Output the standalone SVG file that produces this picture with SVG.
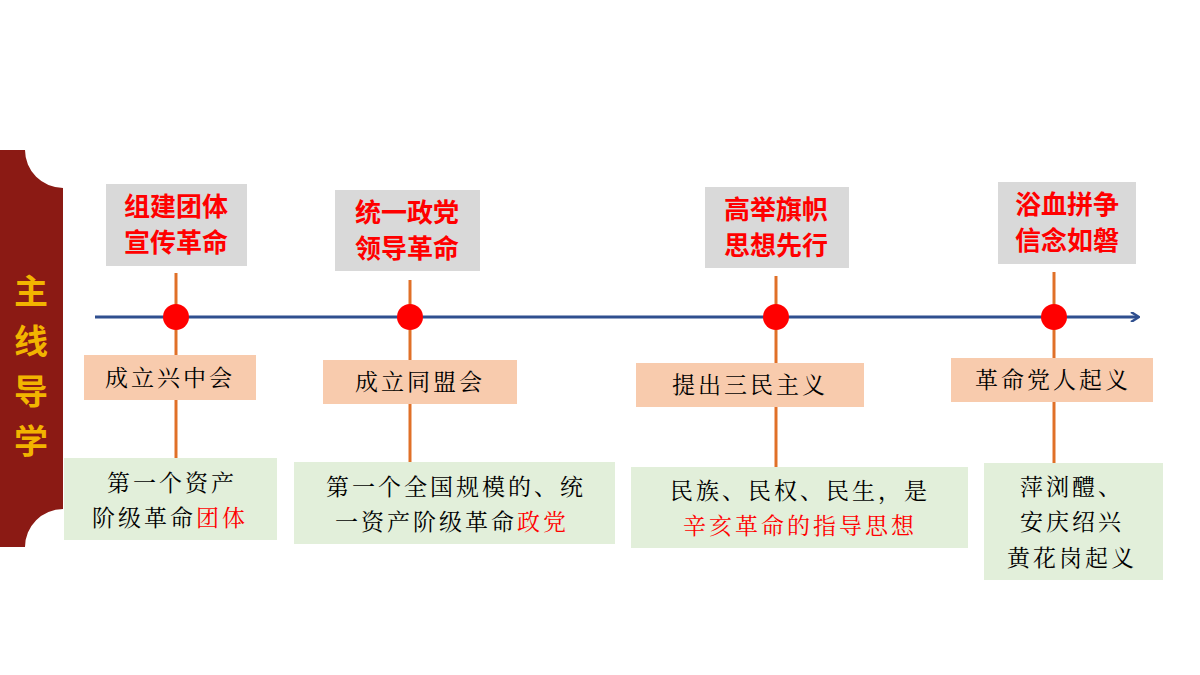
<svg xmlns="http://www.w3.org/2000/svg" width="1200" height="675" viewBox="0 0 1200 675">
<style>
.g{fill:#d9d9d9}.p{fill:#f8cbad}.gr{fill:#e2efda}
.ht{font-family:"Noto Sans CJK SC",sans-serif;font-weight:bold;font-size:26px;fill:#ff0000;text-anchor:middle}
.bt{font-family:"Noto Serif CJK SC","Noto Sans CJK SC",serif;font-size:23px;fill:#000;text-anchor:middle;letter-spacing:3px}
.r{fill:#ff0000}
.v{stroke:#e07028;stroke-width:3}
.dot{fill:#ff0000}
</style>
<defs><marker id="ar" markerWidth="10" markerHeight="10" refX="8" refY="5" orient="auto" markerUnits="userSpaceOnUse"><path d="M1,0 L9,5 L1,10" fill="none" stroke="#2f4f8f" stroke-width="2.5"/></marker></defs>
<rect width="1200" height="675" fill="#fff"/>
<g id="banner">
<path d="M0,150 H25 A38,38 0 0 0 63,188 V509 A38,38 0 0 0 25,547 H0 Z" fill="#8b1a14"/>
<text font-family="Noto Sans CJK SC,sans-serif" font-weight="bold" font-size="34" fill="#f2b400" text-anchor="middle"><tspan x="31" y="304">主</tspan><tspan x="31" y="354">线</tspan><tspan x="31" y="404">导</tspan><tspan x="31" y="454">学</tspan></text>
</g>
<g id="connectors">
<line x1="95" y1="317" x2="1138" y2="317" stroke="#2f4f8f" stroke-width="3" marker-end="url(#ar)"/>
<line class="v" x1="176" y1="273" x2="176" y2="458"/>
<line class="v" x1="410" y1="280" x2="410" y2="462"/>
<line class="v" x1="776" y1="276" x2="776" y2="467"/>
<line class="v" x1="1054" y1="272" x2="1054" y2="463"/>
</g>
<g id="n1">
<rect class="g" x="106" y="184" width="141" height="82"/>
<text class="ht"><tspan x="176" y="216">组建团体</tspan><tspan x="176" y="252">宣传革命</tspan></text>
<circle class="dot" cx="176" cy="317" r="13"/>
<rect class="p" x="84" y="355" width="172" height="45"/>
<text class="bt" x="170" y="386">成立兴中会</text>
<rect class="gr" x="64" y="458" width="213" height="82"/>
<text class="bt"><tspan x="172" y="491">第一个资产</tspan><tspan x="170" y="526">阶级革命<tspan class="r">团体</tspan></tspan></text>
</g>
<g id="n2">
<rect class="g" x="335" y="190" width="145" height="81"/>
<text class="ht"><tspan x="407" y="222">统一政党</tspan><tspan x="407" y="258">领导革命</tspan></text>
<circle class="dot" cx="410" cy="317" r="13"/>
<rect class="p" x="323" y="360" width="194" height="44"/>
<text class="bt" x="420" y="390">成立同盟会</text>
<rect class="gr" x="294" y="462" width="321" height="82"/>
<text class="bt"><tspan x="456" y="495">第一个全国规模的、统</tspan><tspan x="452" y="530">一资产阶级革命<tspan class="r">政党</tspan></tspan></text>
</g>
<g id="n3">
<rect class="g" x="705" y="187" width="144" height="81"/>
<text class="ht"><tspan x="776" y="219">高举旗帜</tspan><tspan x="776" y="255">思想先行</tspan></text>
<circle class="dot" cx="776" cy="317" r="13"/>
<rect class="p" x="636" y="363" width="228" height="44"/>
<text class="bt" x="750" y="393">提出三民主义</text>
<rect class="gr" x="631" y="467" width="337" height="81"/>
<text class="bt"><tspan x="800" y="499">民族、民权、民生，是</tspan><tspan x="800" y="534" class="r">辛亥革命的指导思想</tspan></text>
</g>
<g id="n4">
<rect class="g" x="998" y="182" width="138" height="82"/>
<text class="ht"><tspan x="1067" y="214">浴血拼争</tspan><tspan x="1067" y="250">信念如磐</tspan></text>
<circle class="dot" cx="1054" cy="317" r="13"/>
<rect class="p" x="951" y="358" width="202" height="44"/>
<text class="bt" x="1053" y="388">革命党人起义</text>
<rect class="gr" x="984" y="463" width="179" height="117"/>
<text class="bt"><tspan x="1072" y="495">萍浏醴、</tspan><tspan x="1072" y="530">安庆绍兴</tspan><tspan x="1072" y="566">黄花岗起义</tspan></text>
</g>
</svg>
